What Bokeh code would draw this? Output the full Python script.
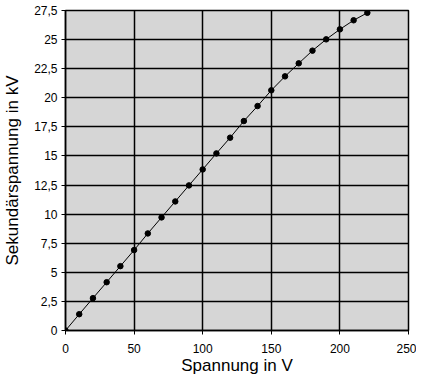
from bokeh.plotting import figure
from bokeh.models import Range1d, FixedTicker, CustomJSTickFormatter
from bokeh.embed import file_html
from bokeh.resources import INLINE

spannung = [0, 10, 20, 30, 40, 50, 60, 70, 80, 90, 100, 110, 120, 130, 140, 150,
            160, 170, 180, 190, 200, 210, 220]
sekundaer = [0.0, 1.40, 2.78, 4.15, 5.53, 6.91, 8.34, 9.72, 11.09, 12.47, 13.84,
             15.22, 16.57, 18.0, 19.29, 20.64, 21.84, 22.96, 24.05, 25.02, 25.88,
             26.66, 27.30]
x_ticks = [0, 50, 100, 150, 200, 250]
y_ticks = [0, 2.5, 5, 7.5, 10, 12.5, 15, 17.5, 20, 22.5, 25, 27.5]

p = figure(frame_width=343, frame_height=320, output_backend="svg", toolbar_location=None,
           x_range=Range1d(0, 250), y_range=Range1d(0, 27.5),
           min_border_left=64, min_border_right=8, min_border_top=10,
           min_border_bottom=40)
p.background_fill_color = "#d6d6d6"
p.border_fill_color = "white"
p.outline_line_color = "black"
p.outline_line_width = 1.5

for ax in (p.xaxis, p.yaxis):
    ax.axis_line_color = "black"
    ax.axis_line_width = 1.5
    ax.major_tick_line_color = "black"
    ax.major_tick_in = 0
    ax.major_tick_out = 4
    ax.minor_tick_line_color = None
    ax.major_label_text_font = "Liberation Sans"
    ax.major_label_text_font_size = "12px"
    ax.major_label_text_color = "black"
    ax.axis_label_text_font = "Liberation Sans"
    ax.axis_label_text_font_size = "17px"
    ax.axis_label_text_font_style = "normal"
    ax.axis_label_text_color = "black"

p.xaxis.ticker = FixedTicker(ticks=x_ticks)
p.yaxis.ticker = FixedTicker(ticks=y_ticks)
p.yaxis.formatter = CustomJSTickFormatter(code="return tick.toString().replace('.', ',');")
p.xaxis.axis_label = "Spannung in V"
p.yaxis.axis_label = "Sekundärspannung in kV"
p.xaxis.major_label_standoff = 9
p.yaxis.major_label_standoff = 4
p.xaxis.axis_label_standoff = 0
p.yaxis.axis_label_standoff = 9

p.xgrid.ticker = FixedTicker(ticks=x_ticks)
p.ygrid.ticker = FixedTicker(ticks=y_ticks)
for g in (p.xgrid, p.ygrid):
    g.grid_line_color = "black"
    g.grid_line_width = 1.5

p.line(spannung, sekundaer, line_color="black", line_width=1)
p.scatter(spannung, sekundaer, marker="circle", size=5.5, fill_color="black",
          line_color="black")

open("out.html", "w").write(file_html(p, INLINE))
